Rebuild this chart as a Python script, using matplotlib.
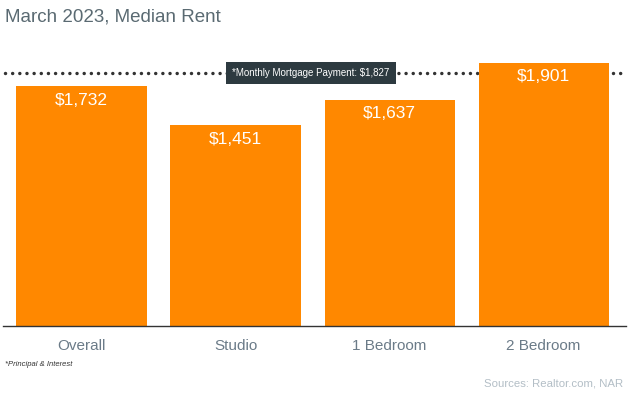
import matplotlib
matplotlib.use("Agg")
import matplotlib.pyplot as plt

categories = ["Overall", "Studio", "1 Bedroom", "2 Bedroom"]
rents = [1732, 1451, 1637, 1901]
value_labels = ["$1,732", "$1,451", "$1,637", "$1,901"]
mortgage = 1827
mortgage_label = "*Monthly Mortgage Payment: $1,827"

plt.rcParams['font.family'] = ['Liberation Sans', 'DejaVu Sans']

fig = plt.figure(figsize=(6.33, 3.95), dpi=100)
ax = fig.add_axes([3/633, 69/395, 623/633, 276.6/395])

x = list(range(len(categories)))
ax.bar(x, rents, width=0.845, color="#FF8800", zorder=2)
for xi, v, lab in zip(x, rents, value_labels):
    ax.text(xi, v - 100, lab, ha="center", va="center", color="white", fontsize=12.5, zorder=3)

ax.set_xlim(-0.51, 3.535)
ax.set_ylim(0, 2000)
ax.axhline(mortgage, xmin=0.003, xmax=0.998, color="#333333", lw=2.5,
           linestyle=(0, (0.01, 2.05)), dash_capstyle="round", zorder=1)
ax.text(1.49, mortgage, mortgage_label, ha="center", va="center", color="white", fontsize=7,
        zorder=4, bbox=dict(boxstyle="square,pad=0.62", fc="#2d3a40", ec="none"))

for s in ["top", "right", "left"]:
    ax.spines[s].set_visible(False)
ax.spines["bottom"].set_color("#333333")
ax.spines["bottom"].set_linewidth(1)
ax.set_yticks([])
ax.set_xticks(x)
ax.set_xticklabels(categories, fontsize=11, color="#6b7b88")
ax.tick_params(axis="x", length=0, pad=9)

fig.text(5/633, 1 - 17/395, "March 2023, Median Rent", ha="left", va="center", fontsize=13.5, color="#5a6a72")
fig.text(5/633, 1 - 364/395, "*Principal & Interest", ha="left", va="center", fontsize=5.5,
         style="italic", color="#333333")
fig.text(623/633, 1 - 383/395, "Sources: Realtor.com, NAR", ha="right", va="center", fontsize=8.2, color="#b3bec6")

fig.savefig("out.png", dpi=100)
